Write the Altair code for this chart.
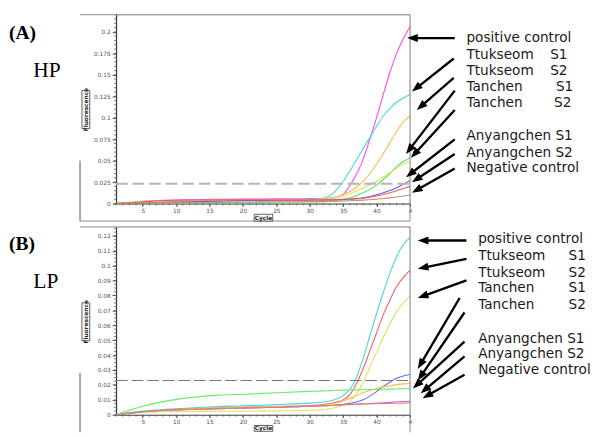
import math
import altair as alt
import pandas as pd

# ---------------- data ----------------
CYCLES = [1, 3, 5, 8, 12, 16, 20, 25, 30, 32, 33, 34, 35, 36, 37, 38, 39, 40, 41, 42, 43, 44, 45]
NAMES = ["positive control", "Ttukseom S1", "Ttukseom S2", "Tanchen S1", "Tanchen S2",
         "Anyangchen S1", "Anyangchen S2", "Negative control"]
LEG_MAIN = ["positive control", "Ttukseom", "Ttukseom", "Tanchen", "Tanchen",
            "Anyangchen S1", "Anyangchen S2", "Negative control"]
LEG_SUFFIX = ["", "S1", "S2", "S1", "S2", "", "", ""]

# Panel A (HP)
HP_COLORS = ["#ff44ff", "#44d8d8", "#ffb84a", "#55e855", "#e8dc5a", "#5a5aff", "#ff5a5a", "#c4945e"]
HP_VALUES = [
    [0, 0.0012, 0.0025, 0.0038, 0.0045, 0.005, 0.0052, 0.0055, 0.0057, 0.0058, 0.0062, 0.007, 0.0105, 0.021, 0.034, 0.052, 0.075, 0.1, 0.127, 0.153, 0.175, 0.192, 0.206],
    [0, 0.0008, 0.0018, 0.0028, 0.0032, 0.0036, 0.004, 0.0045, 0.005, 0.0062, 0.009, 0.016, 0.026, 0.038, 0.051, 0.064, 0.077, 0.09, 0.102, 0.111, 0.118, 0.123, 0.127],
    [0, 0.001, 0.002, 0.003, 0.0035, 0.0038, 0.004, 0.0042, 0.0045, 0.0055, 0.0065, 0.008, 0.0105, 0.014, 0.019, 0.026, 0.035, 0.046, 0.058, 0.071, 0.084, 0.095, 0.102],
    [0, 0.0005, 0.001, 0.0012, 0.0013, 0.0014, 0.0015, 0.0017, 0.002, 0.0025, 0.003, 0.0038, 0.005, 0.0068, 0.0092, 0.0125, 0.0165, 0.0215, 0.028, 0.035, 0.043, 0.049, 0.053],
    [0, 0.0015, 0.0025, 0.003, 0.0032, 0.0033, 0.0035, 0.004, 0.0045, 0.005, 0.0058, 0.0072, 0.009, 0.0115, 0.0145, 0.018, 0.022, 0.026, 0.031, 0.036, 0.041, 0.046, 0.049],
    [0, 0.0005, 0.001, 0.0015, 0.002, 0.0028, 0.0035, 0.0038, 0.004, 0.0042, 0.0044, 0.0046, 0.0049, 0.0053, 0.0059, 0.0068, 0.0082, 0.0102, 0.0125, 0.0152, 0.0185, 0.0225, 0.027],
    [0, 0.001, 0.002, 0.0035, 0.004, 0.0045, 0.0045, 0.0042, 0.004, 0.004, 0.0041, 0.0042, 0.0044, 0.0048, 0.0054, 0.0062, 0.0073, 0.0088, 0.0105, 0.0125, 0.015, 0.0175, 0.02],
    [0, 0.0005, 0.001, 0.0012, 0.0015, 0.0016, 0.0018, 0.002, 0.002, 0.0022, 0.0024, 0.0026, 0.0029, 0.0032, 0.0036, 0.004, 0.0045, 0.005, 0.0058, 0.0066, 0.0076, 0.0088, 0.01],
]

# Panel B (LP)
LP_COLORS = ["#44d8d8", "#ff5a5a", "#e8dc5a", "#6a6aff", "#ffb84a", "#66ee66", "#ff55ff", "#c4945e"]
LP_VALUES = [
    [0, 0.0015, 0.0025, 0.0035, 0.0045, 0.0055, 0.006, 0.0068, 0.0078, 0.0085, 0.0092, 0.0105, 0.013, 0.017, 0.025, 0.038, 0.053, 0.068, 0.082, 0.095, 0.106, 0.114, 0.119],
    [0, 0.001, 0.002, 0.003, 0.004, 0.0045, 0.005, 0.0055, 0.0062, 0.0068, 0.0075, 0.0085, 0.010, 0.0135, 0.021, 0.031, 0.043, 0.055, 0.067, 0.077, 0.086, 0.092, 0.097],
    [0, 0.0008, 0.0015, 0.002, 0.0022, 0.0023, 0.0024, 0.0026, 0.003, 0.0035, 0.004, 0.005, 0.0065, 0.009, 0.014, 0.022, 0.032, 0.042, 0.052, 0.061, 0.069, 0.075, 0.08],
    [0, 0.001, 0.002, 0.0028, 0.0035, 0.004, 0.0045, 0.005, 0.0058, 0.006, 0.0062, 0.0065, 0.007, 0.0075, 0.0085, 0.01, 0.0125, 0.0155, 0.019, 0.022, 0.0245, 0.026, 0.027],
    [0, 0.001, 0.002, 0.003, 0.0038, 0.0045, 0.005, 0.0055, 0.006, 0.0065, 0.007, 0.008, 0.0093, 0.011, 0.013, 0.0148, 0.0163, 0.0176, 0.0187, 0.0195, 0.0202, 0.0207, 0.021],
    [0, 0.003, 0.0057, 0.0088, 0.0115, 0.013, 0.0138, 0.0148, 0.0157, 0.016, 0.0162, 0.0163, 0.0165, 0.0166, 0.0167, 0.0168, 0.0169, 0.017, 0.0171, 0.0172, 0.0173, 0.0174, 0.0175],
    [0, 0.001, 0.002, 0.003, 0.0035, 0.004, 0.0045, 0.005, 0.0058, 0.006, 0.0062, 0.0065, 0.0068, 0.007, 0.0072, 0.0074, 0.0076, 0.0078, 0.008, 0.0083, 0.0087, 0.0089, 0.009],
    [0, 0.001, 0.002, 0.003, 0.0035, 0.004, 0.0045, 0.005, 0.0058, 0.006, 0.0062, 0.0064, 0.0066, 0.0068, 0.007, 0.0072, 0.0073, 0.0074, 0.0075, 0.0076, 0.0077, 0.0078, 0.008],
]

THRESHOLD = 0.023
X_TICKS = [5, 10, 15, 20, 25, 30, 35, 40, 45]
HP_YTICKS = [0, 0.025, 0.05, 0.075, 0.1, 0.125, 0.15, 0.175, 0.2]
LP_YTICKS = [0, 0.01, 0.02, 0.03, 0.04, 0.05, 0.06, 0.07, 0.08, 0.09, 0.1, 0.11, 0.12]

# annotation positions in data units (cycle, fluorescence)
HP_LEG_X = 53.45
HP_LEG_Y = [0.1928, 0.1735, 0.1542, 0.1361, 0.1168, 0.0782, 0.0590, 0.0408]
HP_SUF_X = [0, 65.98, 65.98, 66.85, 66.56, 0, 0, 0]
HP_TAIL_C = [51.70, 51.55, 51.55, 51.70, 51.70, 51.70, 51.70, 51.70]
HP_TAIL_V = [0.1928, 0.1690, 0.1463, 0.1316, 0.1089, 0.0748, 0.0578, 0.0408]
HP_TIP_C = [44.56, 45.29, 46.02, 44.41, 45.14, 44.41, 45.29, 45.29]
HP_TIP_V = [0.1928, 0.1304, 0.1089, 0.0578, 0.0533, 0.0306, 0.0249, 0.0125]

LP_LEG_X = 55.2
LP_LEG_Y = [0.1175, 0.1064, 0.0953, 0.0849, 0.0738, 0.0509, 0.0405, 0.0300]
LP_SUF_X = [0, 68.74, 68.74, 68.74, 68.74, 0, 0, 0]
LP_TAIL_C = [53.45, 53.45, 53.45, 52.43, 53.16, 53.16, 53.16, 53.16]
LP_TAIL_V = [0.1169, 0.1045, 0.0901, 0.0783, 0.0686, 0.0490, 0.0392, 0.0268]
LP_TIP_C = [46.16, 46.16, 46.16, 46.16, 46.16, 45.43, 46.60, 46.89]
LP_TIP_V = [0.1169, 0.0979, 0.0783, 0.0307, 0.0229, 0.0176, 0.0144, 0.0111]

# ---------------- layout ----------------
W = 302
XDOM = [1, 45]
HEAD = 11
HEAD_PATH = "M0,0L-0.75,2L0.75,2Z"
TICK_FONT = "DejaVu Sans"
ONE = pd.DataFrame({"d": [0]})
TAG_X = -110


def make_panel(key, values, colors, ydom, H, yticks, yminor_step, yfmt, thr_color, thr_width, thr_dash,
               tag, sub, tag_y, sub_y, leg_x, leg_y, suf_x, tail_c, tail_v, tip_c, tip_v,
               frame_bottom, draw_bottom, cyc_h):
    xs = alt.Scale(domain=XDOM, nice=False, zero=False)
    ys = alt.Scale(domain=ydom, nice=False, zero=False)
    xax = alt.Axis(values=X_TICKS, labelExpr="datum.value == 45 ? '4' : datum.label",
                   labelFont=TICK_FONT, labelFontSize=6, labelColor="#555",
                   tickSize=3, tickColor="#444", domainColor="#444",
                   labelPadding=1, grid=False, labelFlush=False, title=None)
    yax = alt.Axis(values=yticks, format=yfmt, labelFont=TICK_FONT, labelFontSize=6,
                   labelColor="#555", tickSize=4, tickColor="#444", domainColor="#333",
                   domainWidth=1.2, labelPadding=2, grid=False, title=None)

    def X(f):
        return alt.X(f, scale=xs, axis=xax, title=None)

    def Y(f):
        return alt.Y(f, scale=ys, axis=yax, title=None)

    rows = []
    for i, name in enumerate(NAMES):
        for c, v in zip(CYCLES, values[i]):
            rows.append({"cycle": c, "value": v, "series": key + name})
    df = pd.DataFrame(rows)

    curves = alt.Chart(df).mark_line(interpolate="monotone", strokeWidth=1.1).encode(
        x=X("cycle:Q"), y=Y("value:Q"),
        color=alt.Color("series:N", scale=alt.Scale(domain=[key + n for n in NAMES], range=colors),
                        legend=None),
    )

    thr = alt.Chart(pd.DataFrame({"value": [THRESHOLD]})).mark_rule(
        color=thr_color, strokeWidth=thr_width, strokeDash=thr_dash).encode(
        y=Y("value:Q"), x=alt.value(0), x2=alt.value(W))

    xminor = alt.Chart(pd.DataFrame({"cycle": list(range(1, 46))})).mark_rule(
        color="#555", strokeWidth=0.8).encode(
        x=X("cycle:Q"), y=alt.value(H), y2=alt.value(H + 2))
    nmin = int(round(ydom[1] / yminor_step))
    yminor = alt.Chart(pd.DataFrame({"value": [round(i * yminor_step, 5) for i in range(nmin + 1)]})).mark_rule(
        color="#555", strokeWidth=0.8).encode(
        y=Y("value:Q"), x=alt.value(-2), x2=alt.value(1))

    frame_col = "#8a8a8a"
    frames = [
        alt.Chart(ONE).mark_rule(color=frame_col, strokeWidth=1).encode(
            x=alt.value(-37), x2=alt.value(W), y=alt.value(0)),
        alt.Chart(ONE).mark_rule(color=frame_col, strokeWidth=1).encode(
            x=alt.value(W), y=alt.value(0), y2=alt.value(frame_bottom)),
        alt.Chart(ONE).mark_rule(color="#555", strokeWidth=1).encode(
            x=alt.value(-37), y=alt.value(150), y2=alt.value(frame_bottom)),
    ]
    if draw_bottom:
        frames.append(alt.Chart(ONE).mark_rule(color=frame_col, strokeWidth=1).encode(
            x=alt.value(-37), x2=alt.value(W), y=alt.value(frame_bottom)))

    fl_box = alt.Chart(ONE).mark_rect(fill="white", stroke="#333", strokeWidth=0.8).encode(
        x=alt.value(-35), x2=alt.value(-27), y=alt.value(78), y2=alt.value(117))
    fl_txt = alt.Chart(ONE).mark_text(text="Fluorescence", angle=270, fontSize=6, font=TICK_FONT,
                                      fontWeight="bold", color="#222", align="center",
                                      baseline="middle").encode(x=alt.value(-31), y=alt.value(97.5))
    cy_box = alt.Chart(ONE).mark_rect(fill="white", stroke="#333", strokeWidth=0.8).encode(
        x=alt.value(142), x2=alt.value(161), y=alt.value(H + 11), y2=alt.value(H + 11 + cyc_h))
    cy_txt = alt.Chart(ONE).mark_text(text="Cycle", fontSize=6, font=TICK_FONT, fontWeight="bold",
                                      color="#222", align="center", baseline="middle").encode(
        x=alt.value(151.5), y=alt.value(H + 11 + cyc_h / 2))

    tag_txt = alt.Chart(ONE).mark_text(text=tag, font="Liberation Serif", fontWeight="bold",
                                       fontSize=20, align="left", baseline="alphabetic",
                                       color="black").encode(x=alt.value(TAG_X), y=alt.value(tag_y))
    sub_txt = alt.Chart(ONE).mark_text(text=sub, font="Liberation Serif", fontSize=22,
                                       align="left", baseline="alphabetic",
                                       color="black").encode(x=alt.value(TAG_X + 25), y=alt.value(sub_y))

    leg_df = pd.DataFrame({"cycle": [leg_x] * len(LEG_MAIN), "value": leg_y, "t": LEG_MAIN})
    leg = alt.Chart(leg_df).mark_text(align="left", baseline="middle", font="DejaVu Sans",
                                      fontSize=14, color="#1a1a1a").encode(
        x=X("cycle:Q"), y=Y("value:Q"), text="t:N")
    suf_df = pd.DataFrame({"cycle": [s for s, t in zip(suf_x, LEG_SUFFIX) if t],
                           "value": [y for y, t in zip(leg_y, LEG_SUFFIX) if t],
                           "t": [t for t in LEG_SUFFIX if t]})
    suf = alt.Chart(suf_df).mark_text(align="left", baseline="middle", font="DejaVu Sans",
                                      fontSize=14, color="#1a1a1a").encode(
        x=X("cycle:Q"), y=Y("value:Q"), text="t:N")

    kx = W / (XDOM[1] - XDOM[0])
    ky = H / (ydom[1] - ydom[0])
    arows = []
    for tc, tv, hc, hv in zip(tail_c, tail_v, tip_c, tip_v):
        dx = (hc - tc) * kx
        dy = -(hv - tv) * ky
        L = math.hypot(dx, dy)
        ux, uy = dx / L, dy / L
        back = HEAD * 0.8
        bc = hc - ux * back / kx
        bv = hv + uy * back / ky
        ang = math.degrees(math.atan2(ux, -uy)) % 360
        arows.append({"cycle": tc, "value": tv, "bc": bc, "bv": bv, "hc": hc, "hv": hv, "ang": ang})
    adf = pd.DataFrame(arows)
    shafts = alt.Chart(adf).mark_rule(color="black", strokeWidth=2.4).encode(
        x=X("cycle:Q"), y=Y("value:Q"), x2="bc:Q", y2="bv:Q")
    heads = alt.Chart(adf).mark_point(shape=HEAD_PATH, filled=True, size=HEAD * HEAD, opacity=1,
                                      color="black", strokeWidth=0).encode(
        x=X("hc:Q"), y=Y("hv:Q"), angle=alt.Angle("ang:Q", scale=None))

    return alt.layer(curves, thr, xminor, yminor, *frames, fl_box, fl_txt, cy_box, cy_txt,
                     tag_txt, sub_txt, leg, suf, shafts, heads).properties(width=W, height=H)


panel_a = make_panel("A:", HP_VALUES, HP_COLORS, [0, 0.22], 194, HP_YTICKS, 0.005, ".3~f",
                     "#b4b4b4", 2, [12, 5], "(A)", "HP", 25, 63.5,
                     HP_LEG_X, HP_LEG_Y, HP_SUF_X, HP_TAIL_C, HP_TAIL_V, HP_TIP_C, HP_TIP_V,
                     212, True, 7)
panel_b = make_panel("B:", LP_VALUES, LP_COLORS, [0, 0.126], 193, LP_YTICKS, 0.0025, ".2~f",
                     "#707070", 1, [12, 4], "(B)", "LP", 24, 63,
                     LP_LEG_X, LP_LEG_Y, LP_SUF_X, LP_TAIL_C, LP_TAIL_V, LP_TIP_C, LP_TIP_V,
                     211, False, 6)

chart = alt.vconcat(panel_a, panel_b, spacing=4).resolve_scale(
    color="independent", x="independent", y="independent"
).properties(
    padding={"left": 0, "top": 0, "right": 0, "bottom": 0}
).configure_view(stroke=None).configure(background="white")

chart.save("out.html", embed_options={"renderer": "svg", "actions": False})
